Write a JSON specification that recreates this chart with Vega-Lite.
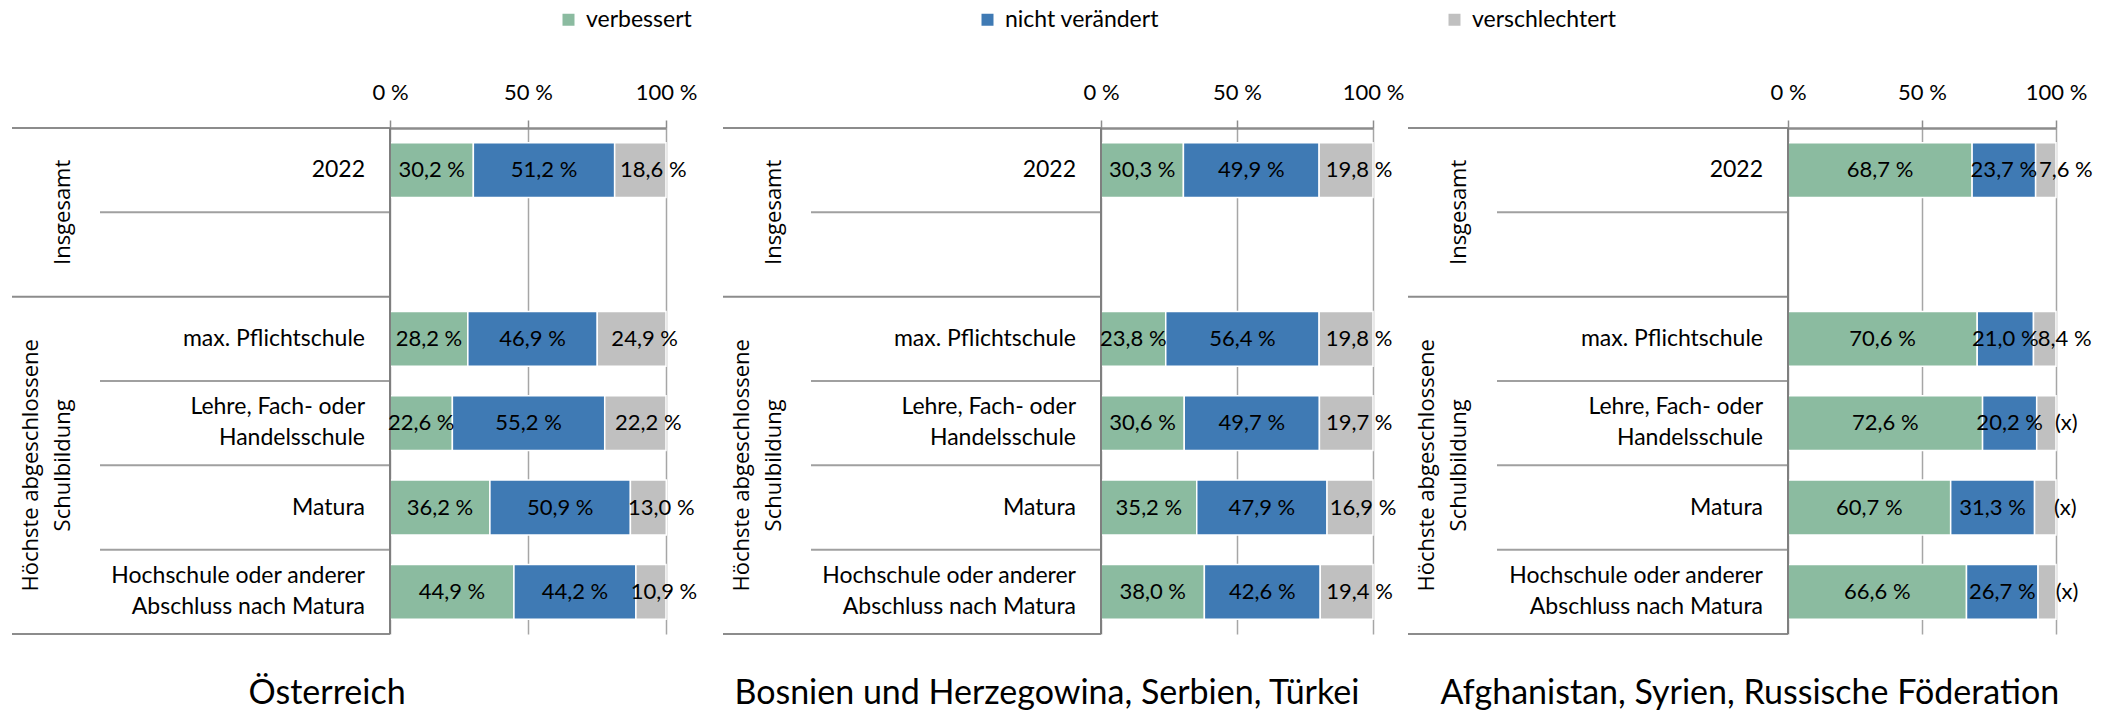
{
  "$schema": "https://vega.github.io/schema/vega-lite/v6.json",
  "padding": {"left": 11, "top": 8, "right": 5, "bottom": 2},
  "spacing": 3,
  "config": {
    "view": {"stroke": null},
    "font": "Lato",
    "title": {"orient": "bottom", "anchor": "middle", "font": "Lato", "fontSize": 34, "fontWeight": "normal", "color": "#000000", "offset": 42}
  },
  "datasets": {
    "werte": [
      {"Region": "Österreich", "Kategorie": "2022", "Status": "verbessert", "Reihenfolge": 1, "Anteil": 30.2, "Label": "30,2 %"},
      {"Region": "Österreich", "Kategorie": "2022", "Status": "nicht verändert", "Reihenfolge": 2, "Anteil": 51.2, "Label": "51,2 %"},
      {"Region": "Österreich", "Kategorie": "2022", "Status": "verschlechtert", "Reihenfolge": 3, "Anteil": 18.6, "Label": "18,6 %"},
      {"Region": "Österreich", "Kategorie": "max. Pflichtschule", "Status": "verbessert", "Reihenfolge": 1, "Anteil": 28.2, "Label": "28,2 %"},
      {"Region": "Österreich", "Kategorie": "max. Pflichtschule", "Status": "nicht verändert", "Reihenfolge": 2, "Anteil": 46.9, "Label": "46,9 %"},
      {"Region": "Österreich", "Kategorie": "max. Pflichtschule", "Status": "verschlechtert", "Reihenfolge": 3, "Anteil": 24.9, "Label": "24,9 %"},
      {"Region": "Österreich", "Kategorie": "Lehre, Fach- oder\nHandelsschule", "Status": "verbessert", "Reihenfolge": 1, "Anteil": 22.6, "Label": "22,6 %"},
      {"Region": "Österreich", "Kategorie": "Lehre, Fach- oder\nHandelsschule", "Status": "nicht verändert", "Reihenfolge": 2, "Anteil": 55.2, "Label": "55,2 %"},
      {"Region": "Österreich", "Kategorie": "Lehre, Fach- oder\nHandelsschule", "Status": "verschlechtert", "Reihenfolge": 3, "Anteil": 22.2, "Label": "22,2 %"},
      {"Region": "Österreich", "Kategorie": "Matura", "Status": "verbessert", "Reihenfolge": 1, "Anteil": 36.2, "Label": "36,2 %"},
      {"Region": "Österreich", "Kategorie": "Matura", "Status": "nicht verändert", "Reihenfolge": 2, "Anteil": 50.9, "Label": "50,9 %"},
      {"Region": "Österreich", "Kategorie": "Matura", "Status": "verschlechtert", "Reihenfolge": 3, "Anteil": 13.0, "Label": "13,0 %"},
      {"Region": "Österreich", "Kategorie": "Hochschule oder anderer\nAbschluss nach Matura", "Status": "verbessert", "Reihenfolge": 1, "Anteil": 44.9, "Label": "44,9 %"},
      {"Region": "Österreich", "Kategorie": "Hochschule oder anderer\nAbschluss nach Matura", "Status": "nicht verändert", "Reihenfolge": 2, "Anteil": 44.2, "Label": "44,2 %"},
      {"Region": "Österreich", "Kategorie": "Hochschule oder anderer\nAbschluss nach Matura", "Status": "verschlechtert", "Reihenfolge": 3, "Anteil": 10.9, "Label": "10,9 %"},
      {"Region": "BST", "Kategorie": "2022", "Status": "verbessert", "Reihenfolge": 1, "Anteil": 30.3, "Label": "30,3 %"},
      {"Region": "BST", "Kategorie": "2022", "Status": "nicht verändert", "Reihenfolge": 2, "Anteil": 49.9, "Label": "49,9 %"},
      {"Region": "BST", "Kategorie": "2022", "Status": "verschlechtert", "Reihenfolge": 3, "Anteil": 19.8, "Label": "19,8 %"},
      {"Region": "BST", "Kategorie": "max. Pflichtschule", "Status": "verbessert", "Reihenfolge": 1, "Anteil": 23.8, "Label": "23,8 %"},
      {"Region": "BST", "Kategorie": "max. Pflichtschule", "Status": "nicht verändert", "Reihenfolge": 2, "Anteil": 56.4, "Label": "56,4 %"},
      {"Region": "BST", "Kategorie": "max. Pflichtschule", "Status": "verschlechtert", "Reihenfolge": 3, "Anteil": 19.8, "Label": "19,8 %"},
      {"Region": "BST", "Kategorie": "Lehre, Fach- oder\nHandelsschule", "Status": "verbessert", "Reihenfolge": 1, "Anteil": 30.6, "Label": "30,6 %"},
      {"Region": "BST", "Kategorie": "Lehre, Fach- oder\nHandelsschule", "Status": "nicht verändert", "Reihenfolge": 2, "Anteil": 49.7, "Label": "49,7 %"},
      {"Region": "BST", "Kategorie": "Lehre, Fach- oder\nHandelsschule", "Status": "verschlechtert", "Reihenfolge": 3, "Anteil": 19.7, "Label": "19,7 %"},
      {"Region": "BST", "Kategorie": "Matura", "Status": "verbessert", "Reihenfolge": 1, "Anteil": 35.2, "Label": "35,2 %"},
      {"Region": "BST", "Kategorie": "Matura", "Status": "nicht verändert", "Reihenfolge": 2, "Anteil": 47.9, "Label": "47,9 %"},
      {"Region": "BST", "Kategorie": "Matura", "Status": "verschlechtert", "Reihenfolge": 3, "Anteil": 16.9, "Label": "16,9 %"},
      {"Region": "BST", "Kategorie": "Hochschule oder anderer\nAbschluss nach Matura", "Status": "verbessert", "Reihenfolge": 1, "Anteil": 38.0, "Label": "38,0 %"},
      {"Region": "BST", "Kategorie": "Hochschule oder anderer\nAbschluss nach Matura", "Status": "nicht verändert", "Reihenfolge": 2, "Anteil": 42.6, "Label": "42,6 %"},
      {"Region": "BST", "Kategorie": "Hochschule oder anderer\nAbschluss nach Matura", "Status": "verschlechtert", "Reihenfolge": 3, "Anteil": 19.4, "Label": "19,4 %"},
      {"Region": "ASR", "Kategorie": "2022", "Status": "verbessert", "Reihenfolge": 1, "Anteil": 68.7, "Label": "68,7 %"},
      {"Region": "ASR", "Kategorie": "2022", "Status": "nicht verändert", "Reihenfolge": 2, "Anteil": 23.7, "Label": "23,7 %"},
      {"Region": "ASR", "Kategorie": "2022", "Status": "verschlechtert", "Reihenfolge": 3, "Anteil": 7.6, "Label": "7,6 %"},
      {"Region": "ASR", "Kategorie": "max. Pflichtschule", "Status": "verbessert", "Reihenfolge": 1, "Anteil": 70.6, "Label": "70,6 %"},
      {"Region": "ASR", "Kategorie": "max. Pflichtschule", "Status": "nicht verändert", "Reihenfolge": 2, "Anteil": 21.0, "Label": "21,0 %"},
      {"Region": "ASR", "Kategorie": "max. Pflichtschule", "Status": "verschlechtert", "Reihenfolge": 3, "Anteil": 8.4, "Label": "8,4 %"},
      {"Region": "ASR", "Kategorie": "Lehre, Fach- oder\nHandelsschule", "Status": "verbessert", "Reihenfolge": 1, "Anteil": 72.6, "Label": "72,6 %"},
      {"Region": "ASR", "Kategorie": "Lehre, Fach- oder\nHandelsschule", "Status": "nicht verändert", "Reihenfolge": 2, "Anteil": 20.2, "Label": "20,2 %"},
      {"Region": "ASR", "Kategorie": "Lehre, Fach- oder\nHandelsschule", "Status": "verschlechtert", "Reihenfolge": 3, "Anteil": 7.2, "Label": "(x)"},
      {"Region": "ASR", "Kategorie": "Matura", "Status": "verbessert", "Reihenfolge": 1, "Anteil": 60.7, "Label": "60,7 %"},
      {"Region": "ASR", "Kategorie": "Matura", "Status": "nicht verändert", "Reihenfolge": 2, "Anteil": 31.3, "Label": "31,3 %"},
      {"Region": "ASR", "Kategorie": "Matura", "Status": "verschlechtert", "Reihenfolge": 3, "Anteil": 8.0, "Label": "(x)"},
      {"Region": "ASR", "Kategorie": "Hochschule oder anderer\nAbschluss nach Matura", "Status": "verbessert", "Reihenfolge": 1, "Anteil": 66.6, "Label": "66,6 %"},
      {"Region": "ASR", "Kategorie": "Hochschule oder anderer\nAbschluss nach Matura", "Status": "nicht verändert", "Reihenfolge": 2, "Anteil": 26.7, "Label": "26,7 %"},
      {"Region": "ASR", "Kategorie": "Hochschule oder anderer\nAbschluss nach Matura", "Status": "verschlechtert", "Reihenfolge": 3, "Anteil": 6.7, "Label": "(x)"}
    ],
    "struktur": [
      {"Kategorie": "2022", "Typ": "Gruppe"},
      {"Kategorie": " ", "Typ": "Trenn"},
      {"Kategorie": "max. Pflichtschule", "Typ": "Gruppe"},
      {"Kategorie": "Lehre, Fach- oder\nHandelsschule", "Typ": "Trenn"},
      {"Kategorie": "Matura", "Typ": "Trenn"},
      {"Kategorie": "Hochschule oder anderer\nAbschluss nach Matura", "Typ": "Trenn"},
      {"Kategorie": "Hochschule oder anderer\nAbschluss nach Matura", "Typ": "Ende"}
    ],
    "kategorien": [
      {"Kategorie": "2022"},
      {"Kategorie": "max. Pflichtschule"},
      {"Kategorie": "Lehre, Fach- oder\nHandelsschule"},
      {"Kategorie": "Matura"},
      {"Kategorie": "Hochschule oder anderer\nAbschluss nach Matura"}
    ],
    "gruppen": [
      {"Gruppe": "Insgesamt", "Anker": " "},
      {"Gruppe": "Höchste abgeschlossene\nSchulbildung", "Anker": "Matura"}
    ]
  },
  "hconcat": [
    {
      "spacing": 24,
      "hconcat": [
        {
          "bounds": "flush",
          "spacing": 0,
          "title": {"text": "Österreich", "dx": -27},
          "hconcat": [
            {
              "width": 378, "height": 506,
              "layer": [
                {"data": {"name": "struktur"}, "transform": [{"filter": "datum.Typ === 'Gruppe'"}],
                 "mark": {"type": "rule", "color": "#8c8c8c", "strokeWidth": 2},
                 "encoding": {
                   "y": {"field": "Kategorie", "type": "nominal", "bandPosition": 0, "scale": {"domain": ["2022", " ", "max. Pflichtschule", "Lehre, Fach- oder\nHandelsschule", "Matura", "Hochschule oder anderer\nAbschluss nach Matura"], "paddingInner": 0, "paddingOuter": 0}, "axis": null},
                   "x": {"datum": 0, "type": "quantitative", "scale": {"domain": [0, 378], "nice": false, "zero": false}, "axis": null},
                   "x2": {"datum": 378}}},
                {"data": {"name": "struktur"}, "transform": [{"filter": "datum.Typ === 'Trenn'"}],
                 "mark": {"type": "rule", "color": "#a0a0a0", "strokeWidth": 2},
                 "encoding": {
                   "y": {"field": "Kategorie", "type": "nominal", "bandPosition": 0},
                   "x": {"datum": 88, "type": "quantitative"},
                   "x2": {"datum": 378}}},
                {"data": {"name": "struktur"}, "transform": [{"filter": "datum.Typ === 'Ende'"}],
                 "mark": {"type": "rule", "color": "#8c8c8c", "strokeWidth": 2},
                 "encoding": {
                   "y": {"field": "Kategorie", "type": "nominal", "bandPosition": 1},
                   "x": {"datum": 0, "type": "quantitative"},
                   "x2": {"datum": 378}}},
                {"data": {"name": "kategorien"}, "transform": [{"filter": "indexof(datum.Kategorie, '\\n') < 0"}],
                 "mark": {"type": "text", "align": "right", "baseline": "middle", "dx": -25, "font": "Lato", "fontSize": 23, "color": "#000000"},
                 "encoding": {
                   "y": {"field": "Kategorie", "type": "nominal"},
                   "x": {"datum": 378, "type": "quantitative"},
                   "text": {"field": "Kategorie"}}},
                {"data": {"name": "kategorien"}, "transform": [{"filter": "indexof(datum.Kategorie, '\\n') >= 0"}],
                 "mark": {"type": "text", "align": "right", "baseline": "line-bottom", "dx": -25, "font": "Lato", "fontSize": 23, "lineBreak": "\n", "lineHeight": 31, "color": "#000000"},
                 "encoding": {
                   "y": {"field": "Kategorie", "type": "nominal"},
                   "x": {"datum": 378, "type": "quantitative"},
                   "text": {"field": "Kategorie"}}},
                {"data": {"name": "gruppen"}, "transform": [{"filter": "indexof(datum.Gruppe, '\\n') < 0"}],
                 "mark": {"type": "text", "angle": 270, "align": "center", "baseline": "bottom", "font": "Open Sans", "fontSize": 22, "color": "#000000"},
                 "encoding": {
                   "y": {"field": "Anker", "type": "nominal", "bandPosition": 0},
                   "x": {"datum": 63, "type": "quantitative"},
                   "text": {"field": "Gruppe"}}},
                {"data": {"name": "gruppen"}, "transform": [{"filter": "indexof(datum.Gruppe, '\\n') >= 0"}],
                 "mark": {"type": "text", "angle": 270, "align": "center", "baseline": "bottom", "dy": -32, "font": "Open Sans", "fontSize": 22, "lineBreak": "\n", "lineHeight": 32, "color": "#000000"},
                 "encoding": {
                   "y": {"field": "Anker", "type": "nominal", "bandPosition": 0},
                   "x": {"datum": 63, "type": "quantitative"},
                   "text": {"field": "Gruppe"}}}
              ]
            },
            {
              "width": 276, "height": 506,
              "data": {"name": "werte"},
              "transform": [{"filter": "datum.Region === 'Österreich'"}],
              "layer": [
                {"mark": {"type": "bar", "stroke": "#ffffff", "strokeWidth": 1.5},
                 "encoding": {
                   "y": {"field": "Kategorie", "type": "nominal", "scale": {"domain": ["2022", " ", "max. Pflichtschule", "Lehre, Fach- oder\nHandelsschule", "Matura", "Hochschule oder anderer\nAbschluss nach Matura"], "paddingInner": 0.35, "paddingOuter": 0.175}, "axis": null},
                   "x": {"field": "Anteil", "type": "quantitative", "stack": "zero", "scale": {"domain": [0, 100], "nice": false},
                         "axis": {"orient": "top", "values": [0, 50, 100], "labelExpr": "datum.value + ' %'", "title": null, "grid": true, "gridColor": "#a6a6a6", "gridWidth": 1.5, "domainColor": "#8c8c8c", "domainWidth": 2.5, "tickColor": "#8c8c8c", "tickWidth": 1.5, "tickSize": 8, "labelFont": "Lato", "labelFontSize": 22, "labelColor": "#000000", "labelPadding": 16, "labelFlush": false, "labelOverlap": false}},
                   "color": {"field": "Status", "type": "nominal", "scale": {"domain": ["verbessert", "nicht verändert", "verschlechtert"], "range": ["#8bbba0", "#3f7ab4", "#c0c0c0"]},
                             "legend": {"orient": "none", "legendX": 545, "legendY": -120, "direction": "horizontal", "title": null, "symbolType": "square", "symbolSize": 144, "symbolStrokeWidth": 0, "labelFont": "Lato", "labelFontSize": 23, "labelColor": "#000000", "columnPadding": 284, "labelOffset": 6, "padding": 0}},
                   "order": {"field": "Reihenfolge", "type": "quantitative"}}},
                {"data": {"values": [{}]},
                 "mark": {"type": "rule", "color": "#7f7f7f", "strokeWidth": 2},
                 "encoding": {"x": {"datum": 0, "type": "quantitative"}}},
                {"mark": {"type": "text", "font": "Lato", "fontSize": 22, "color": "#000000", "baseline": "middle"},
                 "encoding": {
                   "y": {"field": "Kategorie", "type": "nominal"},
                   "x": {"field": "Anteil", "type": "quantitative", "stack": "zero", "bandPosition": 0.5},
                   "detail": {"field": "Status"},
                   "order": {"field": "Reihenfolge", "type": "quantitative"},
                   "text": {"condition": {"test": "datum.Reihenfolge < 3", "field": "Label"}, "value": ""}}},
                {"mark": {"type": "text", "font": "Lato", "fontSize": 22, "color": "#000000", "baseline": "middle", "dx": 13},
                 "encoding": {
                   "y": {"field": "Kategorie", "type": "nominal"},
                   "x": {"field": "Anteil", "type": "quantitative", "stack": "zero", "bandPosition": 0.5},
                   "detail": {"field": "Status"},
                   "order": {"field": "Reihenfolge", "type": "quantitative"},
                   "text": {"condition": {"test": "datum.Reihenfolge === 3", "field": "Label"}, "value": ""}}}
              ]
            }
          ]
        },
        {
          "bounds": "flush",
          "spacing": 0,
          "title": {"text": "Bosnien und Herzegowina, Serbien, Türkei", "dx": -16},
          "hconcat": [
            {
              "width": 378, "height": 506,
              "layer": [
                {"data": {"name": "struktur"}, "transform": [{"filter": "datum.Typ === 'Gruppe'"}],
                 "mark": {"type": "rule", "color": "#8c8c8c", "strokeWidth": 2},
                 "encoding": {
                   "y": {"field": "Kategorie", "type": "nominal", "bandPosition": 0, "scale": {"domain": ["2022", " ", "max. Pflichtschule", "Lehre, Fach- oder\nHandelsschule", "Matura", "Hochschule oder anderer\nAbschluss nach Matura"], "paddingInner": 0, "paddingOuter": 0}, "axis": null},
                   "x": {"datum": 0, "type": "quantitative", "scale": {"domain": [0, 378], "nice": false, "zero": false}, "axis": null},
                   "x2": {"datum": 378}}},
                {"data": {"name": "struktur"}, "transform": [{"filter": "datum.Typ === 'Trenn'"}],
                 "mark": {"type": "rule", "color": "#a0a0a0", "strokeWidth": 2},
                 "encoding": {
                   "y": {"field": "Kategorie", "type": "nominal", "bandPosition": 0},
                   "x": {"datum": 88, "type": "quantitative"},
                   "x2": {"datum": 378}}},
                {"data": {"name": "struktur"}, "transform": [{"filter": "datum.Typ === 'Ende'"}],
                 "mark": {"type": "rule", "color": "#8c8c8c", "strokeWidth": 2},
                 "encoding": {
                   "y": {"field": "Kategorie", "type": "nominal", "bandPosition": 1},
                   "x": {"datum": 0, "type": "quantitative"},
                   "x2": {"datum": 378}}},
                {"data": {"name": "kategorien"}, "transform": [{"filter": "indexof(datum.Kategorie, '\\n') < 0"}],
                 "mark": {"type": "text", "align": "right", "baseline": "middle", "dx": -25, "font": "Lato", "fontSize": 23, "color": "#000000"},
                 "encoding": {
                   "y": {"field": "Kategorie", "type": "nominal"},
                   "x": {"datum": 378, "type": "quantitative"},
                   "text": {"field": "Kategorie"}}},
                {"data": {"name": "kategorien"}, "transform": [{"filter": "indexof(datum.Kategorie, '\\n') >= 0"}],
                 "mark": {"type": "text", "align": "right", "baseline": "line-bottom", "dx": -25, "font": "Lato", "fontSize": 23, "lineBreak": "\n", "lineHeight": 31, "color": "#000000"},
                 "encoding": {
                   "y": {"field": "Kategorie", "type": "nominal"},
                   "x": {"datum": 378, "type": "quantitative"},
                   "text": {"field": "Kategorie"}}},
                {"data": {"name": "gruppen"}, "transform": [{"filter": "indexof(datum.Gruppe, '\\n') < 0"}],
                 "mark": {"type": "text", "angle": 270, "align": "center", "baseline": "bottom", "font": "Open Sans", "fontSize": 22, "color": "#000000"},
                 "encoding": {
                   "y": {"field": "Anker", "type": "nominal", "bandPosition": 0},
                   "x": {"datum": 63, "type": "quantitative"},
                   "text": {"field": "Gruppe"}}},
                {"data": {"name": "gruppen"}, "transform": [{"filter": "indexof(datum.Gruppe, '\\n') >= 0"}],
                 "mark": {"type": "text", "angle": 270, "align": "center", "baseline": "bottom", "dy": -32, "font": "Open Sans", "fontSize": 22, "lineBreak": "\n", "lineHeight": 32, "color": "#000000"},
                 "encoding": {
                   "y": {"field": "Anker", "type": "nominal", "bandPosition": 0},
                   "x": {"datum": 63, "type": "quantitative"},
                   "text": {"field": "Gruppe"}}}
              ]
            },
            {
              "width": 272, "height": 506,
              "data": {"name": "werte"},
              "transform": [{"filter": "datum.Region === 'BST'"}],
              "layer": [
                {"mark": {"type": "bar", "stroke": "#ffffff", "strokeWidth": 1.5},
                 "encoding": {
                   "y": {"field": "Kategorie", "type": "nominal", "scale": {"domain": ["2022", " ", "max. Pflichtschule", "Lehre, Fach- oder\nHandelsschule", "Matura", "Hochschule oder anderer\nAbschluss nach Matura"], "paddingInner": 0.35, "paddingOuter": 0.175}, "axis": null},
                   "x": {"field": "Anteil", "type": "quantitative", "stack": "zero", "scale": {"domain": [0, 100], "nice": false},
                         "axis": {"orient": "top", "values": [0, 50, 100], "labelExpr": "datum.value + ' %'", "title": null, "grid": true, "gridColor": "#a6a6a6", "gridWidth": 1.5, "domainColor": "#8c8c8c", "domainWidth": 2.5, "tickColor": "#8c8c8c", "tickWidth": 1.5, "tickSize": 8, "labelFont": "Lato", "labelFontSize": 22, "labelColor": "#000000", "labelPadding": 16, "labelFlush": false, "labelOverlap": false}},
                   "color": {"field": "Status", "type": "nominal"},
                   "order": {"field": "Reihenfolge", "type": "quantitative"}}},
                {"data": {"values": [{}]},
                 "mark": {"type": "rule", "color": "#7f7f7f", "strokeWidth": 2},
                 "encoding": {"x": {"datum": 0, "type": "quantitative"}}},
                {"mark": {"type": "text", "font": "Lato", "fontSize": 22, "color": "#000000", "baseline": "middle"},
                 "encoding": {
                   "y": {"field": "Kategorie", "type": "nominal"},
                   "x": {"field": "Anteil", "type": "quantitative", "stack": "zero", "bandPosition": 0.5},
                   "detail": {"field": "Status"},
                   "order": {"field": "Reihenfolge", "type": "quantitative"},
                   "text": {"condition": {"test": "datum.Reihenfolge < 3", "field": "Label"}, "value": ""}}},
                {"mark": {"type": "text", "font": "Lato", "fontSize": 22, "color": "#000000", "baseline": "middle", "dx": 13},
                 "encoding": {
                   "y": {"field": "Kategorie", "type": "nominal"},
                   "x": {"field": "Anteil", "type": "quantitative", "stack": "zero", "bandPosition": 0.5},
                   "detail": {"field": "Status"},
                   "order": {"field": "Reihenfolge", "type": "quantitative"},
                   "text": {"condition": {"test": "datum.Reihenfolge === 3", "field": "Label"}, "value": ""}}}
              ]
            }
          ]
        }
      ]
    },
    {
      "bounds": "flush",
      "spacing": 0,
      "title": {"text": "Afghanistan, Syrien, Russische Föderation"},
      "hconcat": [
        {
          "width": 380, "height": 506,
          "layer": [
            {"data": {"name": "struktur"}, "transform": [{"filter": "datum.Typ === 'Gruppe'"}],
             "mark": {"type": "rule", "color": "#8c8c8c", "strokeWidth": 2},
             "encoding": {
               "y": {"field": "Kategorie", "type": "nominal", "bandPosition": 0, "scale": {"domain": ["2022", " ", "max. Pflichtschule", "Lehre, Fach- oder\nHandelsschule", "Matura", "Hochschule oder anderer\nAbschluss nach Matura"], "paddingInner": 0, "paddingOuter": 0}, "axis": null},
               "x": {"datum": 0, "type": "quantitative", "scale": {"domain": [0, 380], "nice": false, "zero": false}, "axis": null},
               "x2": {"datum": 380}}},
            {"data": {"name": "struktur"}, "transform": [{"filter": "datum.Typ === 'Trenn'"}],
             "mark": {"type": "rule", "color": "#a0a0a0", "strokeWidth": 2},
             "encoding": {
               "y": {"field": "Kategorie", "type": "nominal", "bandPosition": 0},
               "x": {"datum": 89, "type": "quantitative"},
               "x2": {"datum": 380}}},
            {"data": {"name": "struktur"}, "transform": [{"filter": "datum.Typ === 'Ende'"}],
             "mark": {"type": "rule", "color": "#8c8c8c", "strokeWidth": 2},
             "encoding": {
               "y": {"field": "Kategorie", "type": "nominal", "bandPosition": 1},
               "x": {"datum": 0, "type": "quantitative"},
               "x2": {"datum": 380}}},
            {"data": {"name": "kategorien"}, "transform": [{"filter": "indexof(datum.Kategorie, '\\n') < 0"}],
             "mark": {"type": "text", "align": "right", "baseline": "middle", "dx": -25, "font": "Lato", "fontSize": 23, "color": "#000000"},
             "encoding": {
               "y": {"field": "Kategorie", "type": "nominal"},
               "x": {"datum": 380, "type": "quantitative"},
               "text": {"field": "Kategorie"}}},
            {"data": {"name": "kategorien"}, "transform": [{"filter": "indexof(datum.Kategorie, '\\n') >= 0"}],
             "mark": {"type": "text", "align": "right", "baseline": "line-bottom", "dx": -25, "font": "Lato", "fontSize": 23, "lineBreak": "\n", "lineHeight": 31, "color": "#000000"},
             "encoding": {
               "y": {"field": "Kategorie", "type": "nominal"},
               "x": {"datum": 380, "type": "quantitative"},
               "text": {"field": "Kategorie"}}},
            {"data": {"name": "gruppen"}, "transform": [{"filter": "indexof(datum.Gruppe, '\\n') < 0"}],
             "mark": {"type": "text", "angle": 270, "align": "center", "baseline": "bottom", "font": "Open Sans", "fontSize": 22, "color": "#000000"},
             "encoding": {
               "y": {"field": "Anker", "type": "nominal", "bandPosition": 0},
               "x": {"datum": 63, "type": "quantitative"},
               "text": {"field": "Gruppe"}}},
            {"data": {"name": "gruppen"}, "transform": [{"filter": "indexof(datum.Gruppe, '\\n') >= 0"}],
             "mark": {"type": "text", "angle": 270, "align": "center", "baseline": "bottom", "dy": -32, "font": "Open Sans", "fontSize": 22, "lineBreak": "\n", "lineHeight": 32, "color": "#000000"},
             "encoding": {
               "y": {"field": "Anker", "type": "nominal", "bandPosition": 0},
               "x": {"datum": 63, "type": "quantitative"},
               "text": {"field": "Gruppe"}}}
          ]
        },
        {
          "width": 268, "height": 506,
          "data": {"name": "werte"},
          "transform": [{"filter": "datum.Region === 'ASR'"}],
          "layer": [
            {"mark": {"type": "bar", "stroke": "#ffffff", "strokeWidth": 1.5},
             "encoding": {
               "y": {"field": "Kategorie", "type": "nominal", "scale": {"domain": ["2022", " ", "max. Pflichtschule", "Lehre, Fach- oder\nHandelsschule", "Matura", "Hochschule oder anderer\nAbschluss nach Matura"], "paddingInner": 0.35, "paddingOuter": 0.175}, "axis": null},
               "x": {"field": "Anteil", "type": "quantitative", "stack": "zero", "scale": {"domain": [0, 100], "nice": false},
                     "axis": {"orient": "top", "values": [0, 50, 100], "labelExpr": "datum.value + ' %'", "title": null, "grid": true, "gridColor": "#a6a6a6", "gridWidth": 1.5, "domainColor": "#8c8c8c", "domainWidth": 2.5, "tickColor": "#8c8c8c", "tickWidth": 1.5, "tickSize": 8, "labelFont": "Lato", "labelFontSize": 22, "labelColor": "#000000", "labelPadding": 16, "labelFlush": false, "labelOverlap": false}},
               "color": {"field": "Status", "type": "nominal"},
               "order": {"field": "Reihenfolge", "type": "quantitative"}}},
            {"data": {"values": [{}]},
             "mark": {"type": "rule", "color": "#7f7f7f", "strokeWidth": 2},
             "encoding": {"x": {"datum": 0, "type": "quantitative"}}},
            {"mark": {"type": "text", "font": "Lato", "fontSize": 22, "color": "#000000", "baseline": "middle"},
             "encoding": {
               "y": {"field": "Kategorie", "type": "nominal"},
               "x": {"field": "Anteil", "type": "quantitative", "stack": "zero", "bandPosition": 0.5},
               "detail": {"field": "Status"},
               "order": {"field": "Reihenfolge", "type": "quantitative"},
               "text": {"condition": {"test": "datum.Reihenfolge < 3", "field": "Label"}, "value": ""}}},
            {"mark": {"type": "text", "font": "Lato", "fontSize": 22, "color": "#000000", "baseline": "middle", "dx": 20},
             "encoding": {
               "y": {"field": "Kategorie", "type": "nominal"},
               "x": {"field": "Anteil", "type": "quantitative", "stack": "zero", "bandPosition": 0.5},
               "detail": {"field": "Status"},
               "order": {"field": "Reihenfolge", "type": "quantitative"},
               "text": {"condition": {"test": "datum.Reihenfolge === 3", "field": "Label"}, "value": ""}}}
          ]
        }
      ]
    }
  ]
}
